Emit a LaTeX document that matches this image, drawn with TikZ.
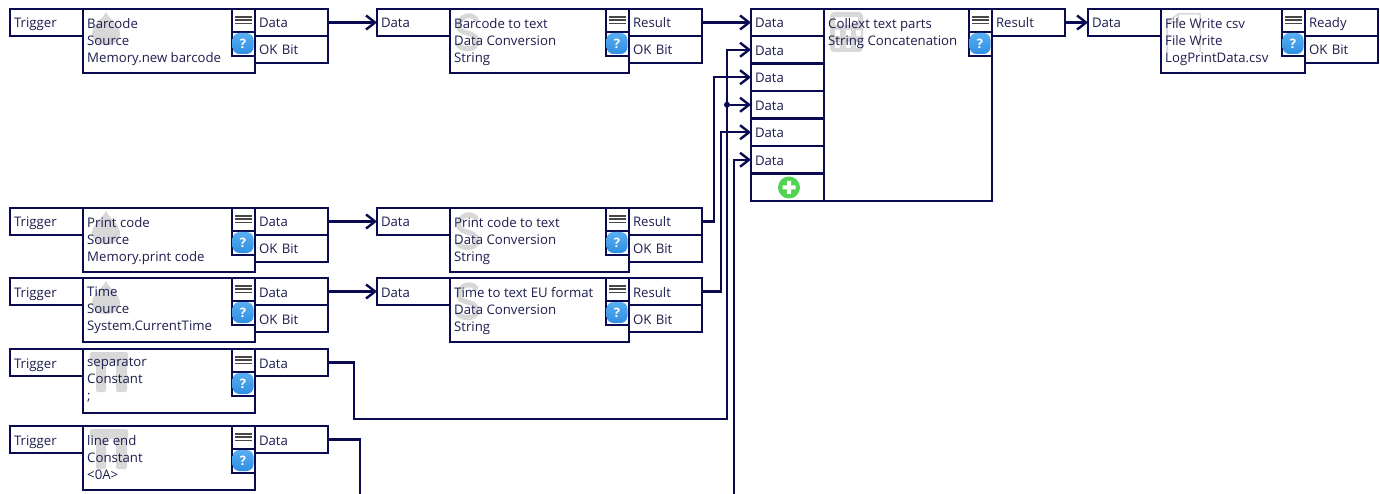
\documentclass[tikz,border=0pt]{standalone}
\usepackage{fontspec}
\setmainfont{Open Sans}
\usetikzlibrary{arrows.meta}
\definecolor{wire}{HTML}{0A0A50}
\definecolor{txt}{HTML}{1E1E4E}
\definecolor{wm}{HTML}{D8D8D8}
\definecolor{qtop}{HTML}{58AEF0}
\definecolor{qbot}{HTML}{2E8FE2}
\definecolor{plusg}{HTML}{52D452}
\tikzset{
 x=1pt,y=-1pt,
 txtfont/.style={font=\fontsize{13.2}{17}\selectfont,text=txt},
 port/.style={draw=wire,line width=2.8pt,fill=white,anchor=north west,outer sep=0pt,inner sep=4pt,
   minimum width=73pt,minimum height=27pt,text width=65pt,align=left,text height=12pt,text depth=1pt,txtfont},
 tall port/.style={port,minimum height=27.5pt},
 mainbox/.style={draw=wire,line width=2.8pt,anchor=north west,outer sep=0pt,inner sep=0pt},
 maintext/.style={anchor=north west,inner sep=0pt,align=left,txtfont},
 iconbox/.style={draw=wire,line width=2.8pt,fill=white,anchor=north east,outer sep=0pt,inner sep=0pt,minimum width=23pt},
 wire line/.style={draw=wire,line width=2.4pt},
 arrowed/.style={wire line,-{Straight Barb[length=9pt,width=14pt,line width=2.4pt]}},
 dotj/.style={circle,fill=wire,inner sep=0pt,minimum size=6pt},
 qicon/.style={top color=qtop,bottom color=qbot,text=white,rounded corners=7pt,minimum size=21pt,inner sep=0pt,font=\bfseries\fontsize{13}{13}\selectfont},
 plusicon/.style={circle,fill=plusg,minimum size=22pt,inner sep=0pt},
 ghost/.style={draw=wm,line width=5pt,line cap=round},
}
% \icons{name}{right x}{top y}
\newcommand{\icons}[3]{%
 \node[iconbox,minimum height=23pt] (#1m) at (#2,#3) {};
 \node[iconbox,minimum height=24pt] (#1q) at (#2,#3+23) {};
 \foreach \d in {8,11.2,14.4}{\draw[black!72,line width=1.6pt] ({#2-20},{#3+\d}) -- ({#2-3.5},{#3+\d});}
 \node[qicon] at ({#2-12},{#3+34.5}) {?};
}
\newcommand{\dropmark}[1]{% top y
 \fill[wm] (106,#1+3) .. controls (109,#1+10) and (120,#1+16) .. (120,#1+25)
   .. controls (120,#1+40) and (92,#1+40) .. (92,#1+25)
   .. controls (92,#1+16) and (103,#1+10) .. (106,#1+3) -- cycle;}
\newcommand{\pimark}[1]{%
 \fill[wm,rounded corners=2pt] (90,#1+3) rectangle (128,#1+13);
 \fill[wm,rounded corners=2pt] (96,#1+8) rectangle (106,#1+43);
 \fill[wm,rounded corners=2pt] (116,#1+8) rectangle (127,#1+43);}
\newcommand{\swirl}[1]{%
 \draw[ghost] (476,#1+10) .. controls (470,#1+3) and (458,#1+8) .. (459,#1+18) .. controls (460,#1+26) and (476,#1+22) .. (477,#1+32) .. controls (477,#1+41) and (464,#1+42) .. (458,#1+36);}
\begin{document}
\begin{tikzpicture}
\useasboundingbox (0,0) rectangle (1380,494);
\fill[white] (0,0) rectangle (1380,494);
% ---------- sources
\dropmark{9}\dropmark{208}\dropmark{278}\pimark{349}\pimark{426}
% barcode source
\node[port] (t1) at (10,9) {Trigger};
\node[mainbox,minimum width=172pt,minimum height=64pt] (s1) at (83,9) {};
\node[maintext] (s1t) at (87,18) {Barcode\\Source\\Memory.new barcode};
\icons{s1}{255}{9}
\node[port] (s1d) at (255,9) {Data};
\node[port] (s1o) at (255,36) {OK Bit};
% print code source
\node[port] (t2) at (10,208) {Trigger};
\node[mainbox,minimum width=172pt,minimum height=64pt] (s2) at (83,208) {};
\node[maintext] (s2t) at (87,217) {Print code\\Source\\Memory.print code};
\icons{s2}{255}{208}
\node[port] (s2d) at (255,208) {Data};
\node[port] (s2o) at (255,235) {OK Bit};
% time source
\node[port] (t3) at (10,278) {Trigger};
\node[mainbox,minimum width=172pt,minimum height=64pt] (s3) at (83,278) {};
\node[maintext] (s3t) at (87,287) {Time\\Source\\System.CurrentTime};
\icons{s3}{255}{278}
\node[port] (s3d) at (255,278) {Data};
\node[port] (s3o) at (255,305) {OK Bit};
% separator
\node[port] (t4) at (10,349) {Trigger};
\node[mainbox,minimum width=172pt,minimum height=64pt] (s4) at (83,349) {};
\node[maintext] (s4t) at (87,358) {separator\\Constant\\;};
\icons{s4}{255}{349}
\node[port] (s4d) at (255,349) {Data};
% line end
\node[port] (t5) at (10,426) {Trigger};
\node[mainbox,minimum width=172pt,minimum height=64pt] (s5) at (83,426) {};
\node[maintext] (s5t) at (87,435) {line end\\Constant\\<0A>};
\icons{s5}{255}{426}
\node[port] (s5d) at (255,426) {Data};
% ---------- conversions
\swirl{9}\swirl{208}\swirl{278}
\node[port] (c1i) at (377,9) {Data};
\node[mainbox,minimum width=179pt,minimum height=64pt] (c1) at (450,9) {};
\node[maintext] (c1t) at (454,18) {Barcode to text\\Data Conversion\\String};
\icons{c1}{629}{9}
\node[port] (c1r) at (629,9) {Result};
\node[port] (c1o) at (629,36) {OK Bit};
\node[port] (c2i) at (377,208) {Data};
\node[mainbox,minimum width=179pt,minimum height=64pt] (c2) at (450,208) {};
\node[maintext] (c2t) at (454,217) {Print code to text\\Data Conversion\\String};
\icons{c2}{629}{208}
\node[port] (c2r) at (629,208) {Result};
\node[port] (c2o) at (629,235) {OK Bit};
\node[port] (c3i) at (377,278) {Data};
\node[mainbox,minimum width=179pt,minimum height=64pt] (c3) at (450,278) {};
\node[maintext] (c3t) at (454,287) {Time to text EU format\\Data Conversion\\String};
\icons{c3}{629}{278}
\node[port] (c3r) at (629,278) {Result};
\node[port] (c3o) at (629,305) {OK Bit};
% ---------- concatenation
\node[port] (in1) at (751,9) {Data};
\node[tall port] (in2) at (751,36) {Data};
\node[tall port] (in3) at (751,63.5) {Data};
\node[tall port] (in4) at (751,91) {Data};
\node[tall port] (in5) at (751,118.5) {Data};
\node[tall port] (in6) at (751,146) {Data};
\node[tall port] (addp) at (751,173.5) {};
\node[plusicon] (plus) at (789,187.5) {};
\fill[white] (782.5,185.5) rectangle (795.5,189.5) (787,181) rectangle (791,194);
\fill[wm,rounded corners=4pt] (830,12) rectangle (863,52);
\foreach \hx in {835,846,856}{\foreach \hy in {30,42}{\fill[white] (\hx,\hy) rectangle ++(5,6);}}
\fill[white] (835,17) rectangle (858,25);
\node[mainbox,minimum width=168pt,minimum height=192pt] (cc) at (824,9) {};
\node[maintext] (cct) at (828,18) {Collext text parts\\String Concatenation};
\icons{cc}{992}{9}
\node[port] (ccr) at (992,9) {Result};
% ---------- file write
\draw[wm,line width=1.5pt] (1167,52) -- (1167,22) -- (1178,14) -- (1200,14) -- (1200,52);
\draw[wm,line width=1.2pt] (1167,22) -- (1178,22) -- (1178,14);
\node[port] (f1i) at (1088,9) {Data};
\node[mainbox,minimum width=144pt,minimum height=64pt] (f1) at (1161,9) {};
\node[maintext] (f1t) at (1165,18) {File Write csv\\File Write\\LogPrintData.csv};
\icons{f1}{1305}{9}
\node[port] (f1r) at (1305,9) {Ready};
\node[port] (f1o) at (1305,36) {OK Bit};
% ---------- wiring
\coordinate (v1) at (714,0);
\coordinate (v2) at (721,0);
\coordinate (v3) at (727,0);
\coordinate (v4) at (734,494);
\coordinate (h1) at (354,419);
\coordinate (e1) at (360,494);
\draw[arrowed] (s1d.east) -- (c1i.west);
\draw[arrowed] (s2d.east) -- (c2i.west);
\draw[arrowed] (s3d.east) -- (c3i.west);
\draw[arrowed] (c1r.east) -- (in1.west);
\draw[arrowed] (ccr.east) -- (f1i.west);
\draw[arrowed] (c2r.east) -- (c2r.east -| v1) -- (v1 |- in3.west) -- (in3.west);
\draw[arrowed] (c3r.east) -- (c3r.east -| v2) -- (v2 |- in5.west) -- (in5.west);
\draw[arrowed] (s4d.east) -- (s4d.east -| h1) -- (h1) -- (h1 -| v3) -- (v3 |- in2.west) -- (in2.west);
\node[dotj] (jn) at (v3 |- in4.west) {};
\draw[arrowed] (jn) -- (in4.west);
\draw[wire line] (s5d.east) -- (s5d.east -| e1) -- (e1);
\draw[arrowed] (v4) -- (v4 |- in6.west) -- (in6.west);
\end{tikzpicture}
\end{document}
